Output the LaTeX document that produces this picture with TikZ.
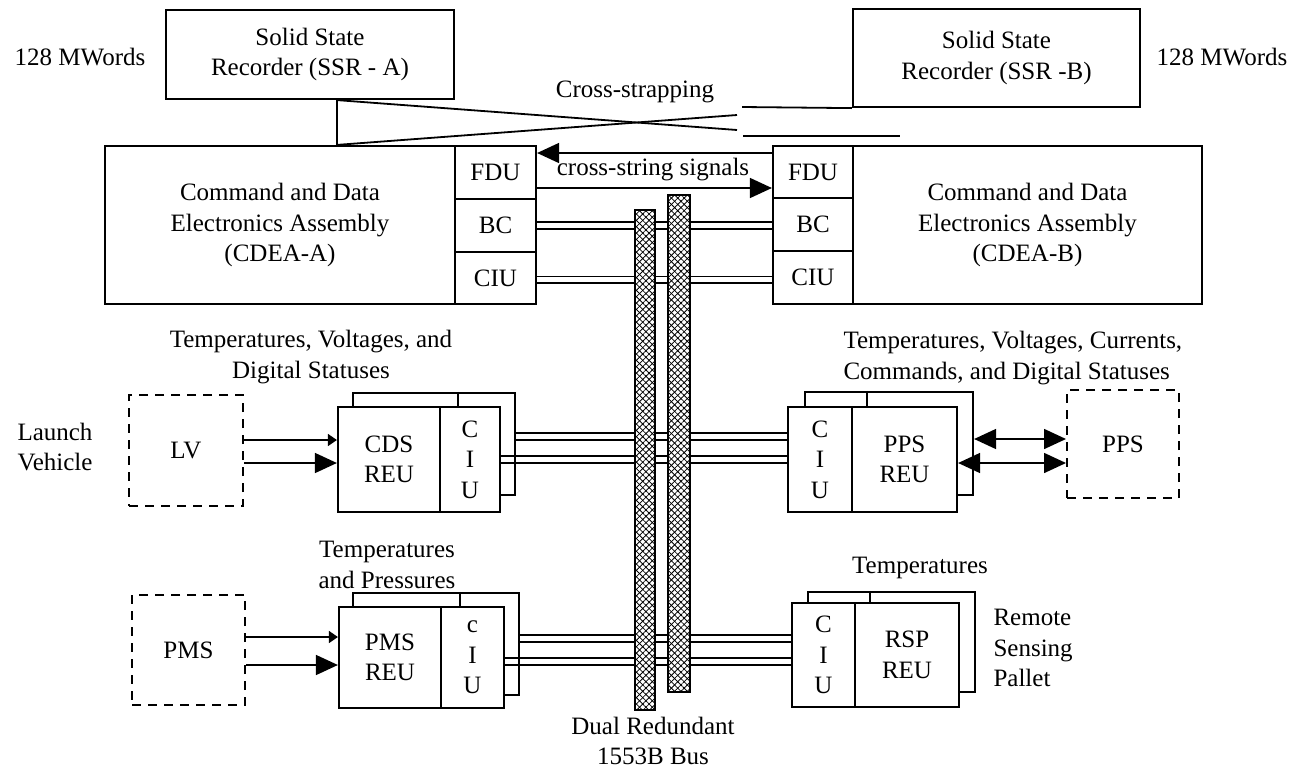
\documentclass[tikz,border=0pt]{standalone}
\usepackage{fontspec}
\setmainfont{Liberation Serif}
\usetikzlibrary{calc}
\usetikzlibrary{arrows.meta}
\usetikzlibrary{patterns.meta}

\tikzset{
    box/.style={draw, line width=2.2pt, fill=white, align=center, inner sep=0pt},
    unit/.style={box, minimum width=81pt, minimum height=53pt},
    back/.style={draw, line width=2.2pt, inner sep=0pt},
    extbox/.style={draw, line width=2pt, dash pattern=on 9pt off 7pt, align=center, inner sep=0pt},
    wire/.style={line width=1.8pt},
    busline/.style={line width=1.6pt},
    busbar/.style={draw, line width=1.8pt, inner sep=0pt, preaction={fill=white},
        pattern={Lines[angle=45,distance=4.5pt,line width=0.8pt]},
        postaction={pattern={Lines[angle=-45,distance=4.5pt,line width=0.8pt]}}},
    sig/.style={line width=1.6pt, -{Triangle[length=22pt,width=20pt]}},
    smallsig/.style={line width=1.6pt, -{Triangle[length=9pt,width=12pt]}},
    dsig/.style={line width=1.6pt, {Triangle[length=22pt,width=20pt]}-{Triangle[length=22pt,width=20pt]}}
}

\begin{document}
\begin{tikzpicture}[x=1pt,y=-1pt,font=\fontsize{25}{30.5}\selectfont]
    \useasboundingbox (0,0) rectangle (1301,774);

    % Recorders
    \node[box, minimum width=288pt, minimum height=89pt] (ssrA) at (310,54.5) {Solid State\\Recorder (SSR - A)};
    \node[box, minimum width=287pt, minimum height=98pt] (ssrB) at (996.5,58) {Solid State\\Recorder (SSR -B)};
    \node (wordsA) at (80,57) {128 MWords};
    \node (wordsB) at (1222,57) {128 MWords};

    % CDEA-A
    \node[box, minimum width=350pt, minimum height=158pt] (cdeaA) at (280,225) {Command and Data\\Electronics Assembly\\(CDEA-A)};
    \node[unit] (fduA) at (495.5,172.5) {FDU};
    \node[unit] (bcA) at (495.5,225.5) {BC};
    \node[unit, minimum height=52pt] (ciuA) at (495.5,278) {CIU};

    % CDEA-B
    \node[unit, minimum width=80pt, minimum height=52pt] (fduB) at (813,172) {FDU};
    \node[unit, minimum width=80pt] (bcB) at (813,224.5) {BC};
    \node[unit, minimum width=80pt] (ciuB) at (813,277.5) {CIU};
    \node[box, minimum width=349pt, minimum height=158pt] (cdeaB) at (1027.5,225) {Command and Data\\Electronics Assembly\\(CDEA-B)};

    % Cross-strapping
    \coordinate (xa) at ([xshift=27pt]ssrA.south);
    \coordinate (xb) at ([xshift=27pt]ssrA.south |- cdeaA.north);
    \coordinate (xc) at (737,130);
    \coordinate (xd) at (737,115);
    \coordinate (xe) at (742,107);
    \coordinate (xf) at (743,136);
    \coordinate (xg) at (900,136);
    \draw[wire] (xa) -- (xb);
    \draw[wire] (xa) -- (xc);
    \draw[wire] (xb) -- (xd);
    \draw[wire] (xe) -- (ssrB.south west);
    \draw[wire] (xf) -- (xg);
    \node (cross) at (635,92) {Cross-strapping};

    % Cross-string signals
    \draw[sig] ([yshift=19.5pt]fduA.east -| fduB.west) -- ([yshift=19.5pt]fduA.east);
    \draw[sig] ([yshift=-15.5pt]fduA.east) -- ([yshift=-15.5pt]fduA.east -| fduB.west);
    \node (xstring) at (653,170) {cross-string signals};

    \foreach \s in {3.5,-3.5}{
        \draw[busline] ([yshift=\s pt]bcA.east) -- ([yshift=\s pt]bcA.east -| bcB.west);
    }
    \foreach \s in {1.5,-5}{
        \draw[busline] ([yshift=\s pt]ciuA.east) -- ([yshift=\s pt]ciuA.east -| ciuB.west);
    }

    % CDS REU
    \node[back, minimum width=162pt, minimum height=102pt] (backCDS) at (434,444) {};
    \node[box, minimum width=102pt, minimum height=105pt] (cdsReu) at (389,459.5) {CDS\\REU};
    \node[box, minimum width=60pt, minimum height=105pt] (ciuCDS) at (470,459.5) {C\\I\\U};
    \draw[back] ([xshift=24pt]backCDS.north) -- ([xshift=24pt]backCDS.north |- cdsReu.north);
    \node[extbox, minimum width=114pt, minimum height=111pt] (lv) at (186,450.5) {LV};
    \node[align=center] (lvName) at (55,447) {Launch\\Vehicle};
    \draw[smallsig] ([yshift=10.5pt]lv.east) -- ([yshift=10.5pt]lv.east -| cdsReu.west);
    \draw[sig] ([yshift=-12.5pt]lv.east) -- ([yshift=-12.5pt]lv.east -| cdsReu.west);
    \node[align=center] (cdsData) at (311,357) {Temperatures, Voltages, and\\Digital Statuses};

    % PMS REU
    \node[back, minimum width=166pt, minimum height=102pt] (backPMS) at (436,644) {};
    \node[box, minimum width=102pt, minimum height=101pt] (pmsReu) at (390,657.5) {PMS\\REU};
    \node[box, minimum width=63pt, minimum height=101pt] (ciuPMS) at (472.5,657.5) {c\\I\\U};
    \draw[back] ([xshift=24pt]backPMS.north) -- ([xshift=24pt]backPMS.north |- pmsReu.north);
    \node[extbox, minimum width=113pt, minimum height=110pt] (pms) at (188.5,650) {PMS};
    \draw[smallsig] ([yshift=13pt]pms.east) -- ([yshift=13pt]pms.east -| pmsReu.west);
    \draw[sig] ([yshift=-15pt]pms.east) -- ([yshift=-15pt]pms.east -| pmsReu.west);
    \node[align=center] (pmsData) at (387,565) {Temperatures\\and Pressures};

    % PPS REU
    \node[back, minimum width=168pt, minimum height=103pt] (backPPS) at (889,443.5) {};
    \node[box, minimum width=64pt, minimum height=105pt] (ciuPPS) at (820,459.5) {C\\I\\U};
    \node[box, minimum width=105pt, minimum height=105pt] (ppsReu) at (904.5,459.5) {PPS\\REU};
    \draw[back] ([xshift=-22pt]backPPS.north) -- ([xshift=-22pt]backPPS.north |- ppsReu.north);
    \node[extbox, minimum width=112pt, minimum height=108pt] (pps) at (1123,444) {PPS};
    \draw[dsig] ([yshift=4.5pt]backPPS.east) -- ([yshift=4.5pt]backPPS.east -| pps.west);
    \draw[dsig] ([yshift=-3.5pt]ppsReu.east) -- ([yshift=-3.5pt]ppsReu.east -| pps.west);
    \node[align=left, anchor=west] (ppsData) at (840,358) {Temperatures, Voltages, Currents,\\Commands, and Digital Statuses};

    % RSP REU
    \node[back, minimum width=167pt, minimum height=100pt] (backRSP) at (891.5,642) {};
    \node[box, minimum width=63pt, minimum height=104pt] (ciuRSP) at (823.5,655) {C\\I\\U};
    \node[box, minimum width=104pt, minimum height=104pt] (rspReu) at (907,655) {RSP\\REU};
    \draw[back] ([xshift=-21.5pt]backRSP.north) -- ([xshift=-21.5pt]backRSP.north |- rspReu.north);
    \node[align=center] (rspData) at (920,568) {Temperatures};
    \node[align=left, anchor=west] (rspName) at (990,648) {Remote\\Sensing\\Pallet};

    % bus stubs
    \foreach \s in {11,4}{
        \draw[busline] ([yshift=\s pt]backCDS.east) -- ([yshift=\s pt]backCDS.east -| ciuPPS.west);
    }
    \foreach \s in {3.5,-3.5}{
        \draw[busline] ([yshift=\s pt]ciuCDS.east) -- ([yshift=\s pt]ciuCDS.east -| ciuPPS.west);
    }
    \foreach \s in {9,2}{
        \draw[busline] ([yshift=\s pt]backPMS.east) -- ([yshift=\s pt]backPMS.east -| ciuRSP.west);
    }
    \foreach \s in {-0.5,-7.5}{
        \draw[busline] ([yshift=\s pt]ciuPMS.east) -- ([yshift=\s pt]ciuPMS.east -| ciuRSP.west);
    }

    % Dual bus
    \node[busbar, minimum width=20pt, minimum height=500pt] (busA) at (645,460) {};
    \node[busbar, minimum width=22pt, minimum height=497pt] (busB) at (679,443.5) {};
    \node[align=center] (busName) at (653,741) {Dual Redundant\\1553B Bus};
\end{tikzpicture}
\end{document}
